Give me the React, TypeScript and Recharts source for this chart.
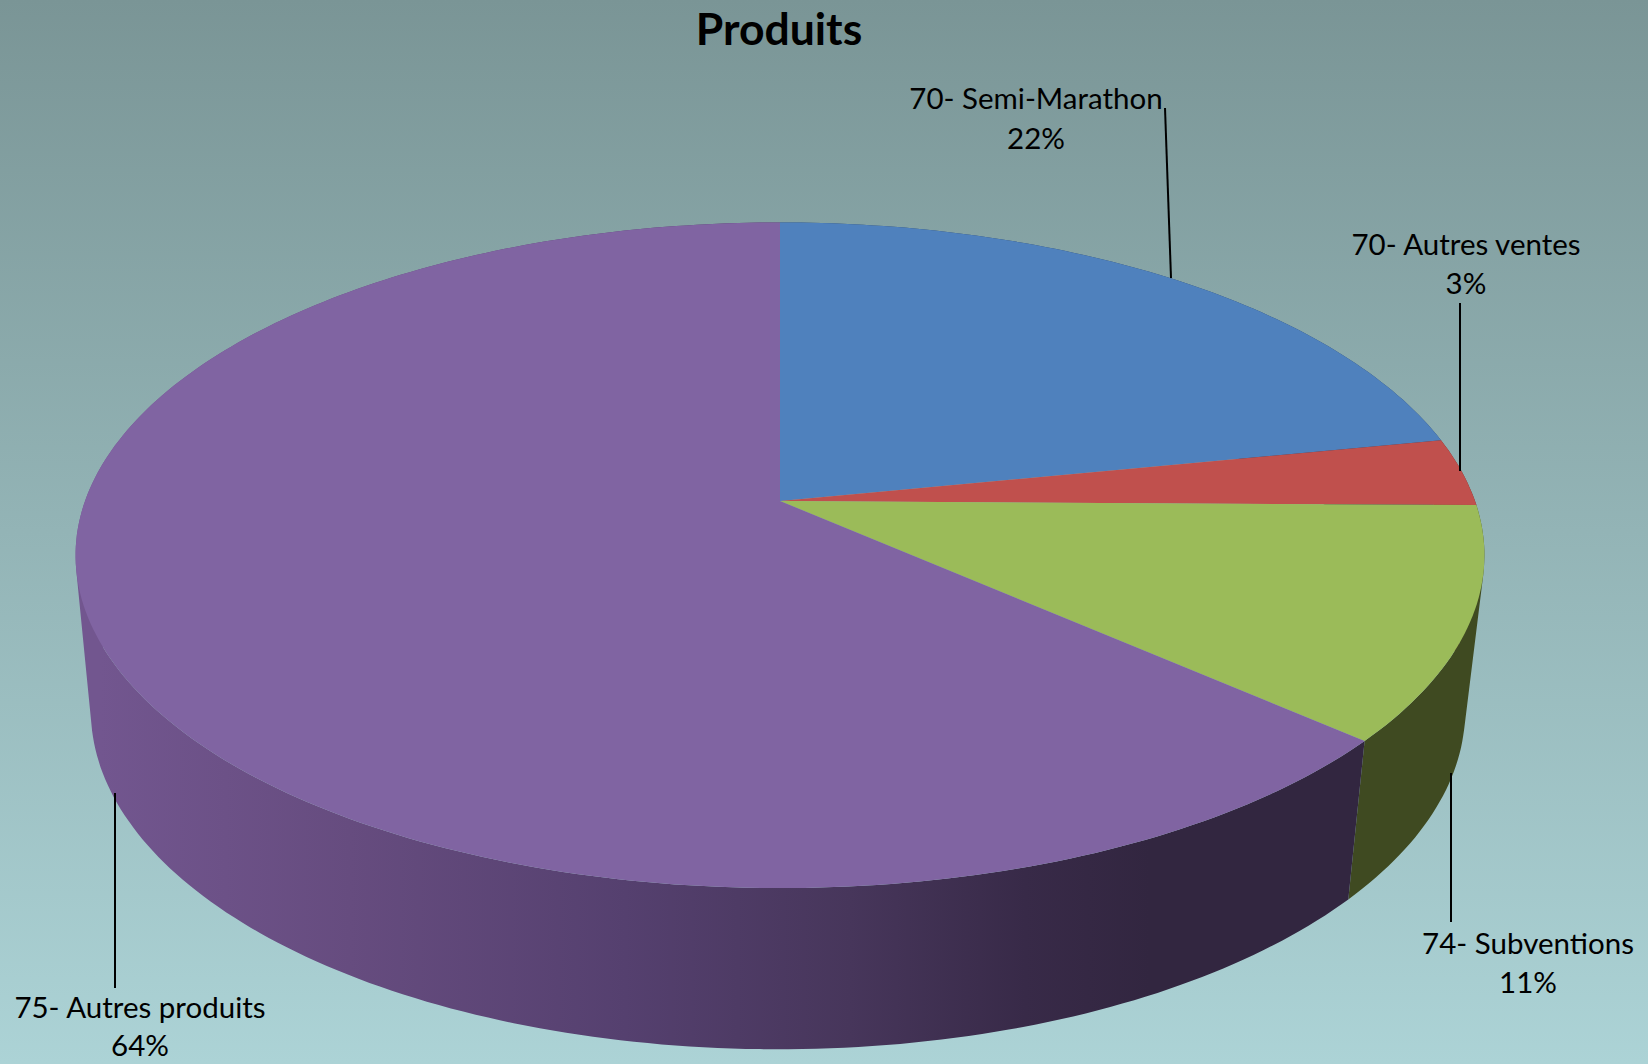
import { Pie, PieChart } from "recharts"

const categories = ["70- Semi-Marathon", "70- Autres ventes", "74- Subventions", "75- Autres produits"]
const shares = [21.9, 3.3, 11.29, 63.51]

const TOP_COLORS = ["#4f81bd", "#c0504d", "#9bbb59", "#8064a2"]
const WALL_COLORS = ["#2a4566", "#652a28", "#3f4a21", "url(#purpleWall)"]

// where each callout sits: leader line, then text centre and the two baselines
const CALLOUTS = [
  { x1: 1165, y1: 108, x2: 1171, y2: 278, tx: 1036, y: 109, y2nd: 149 },
  { x1: 1460, y1: 303, x2: 1460, y2: 471, tx: 1466, y: 255, y2nd: 294 },
  { x1: 1451, y1: 773, x2: 1451, y2: 922, tx: 1528, y: 954, y2nd: 993 },
  { x1: 115, y1: 793, x2: 115, y2: 988, tx: 140, y: 1018, y2nd: 1056 },
]

const WIDTH = 1648
const HEIGHT = 1064
const CX = 780
const CY = 501
const RADIUS = 695
const FONT = "Lato, 'Open Sans', sans-serif"

// perspective of the disc: k is how much the far side shrinks
const K = 0.163
const TOP_RY = 324 / RADIUS
const LOW_RX = 678 / RADIUS
const LOW_RY = 330 / RADIUS
const LOW_DX = -2
const LOW_DY = 154

const topPoint = (cx: number, cy: number, r: number, deg: number) => {
  const a = (deg * Math.PI) / 180
  const w = 1 + K * Math.sin(a)
  return [cx + (r * Math.cos(a)) / w, cy - (r * TOP_RY * Math.sin(a)) / w]
}

const lowPoint = (cx: number, cy: number, r: number, deg: number) => {
  const a = (deg * Math.PI) / 180
  const w = 1 + K * Math.sin(a)
  return [cx + LOW_DX + (r * LOW_RX * Math.cos(a)) / w, cy + LOW_DY - (r * LOW_RY * Math.sin(a)) / w]
}

const arcAngles = (start: number, end: number) => {
  const n = Math.max(2, Math.ceil(Math.abs(end - start)))
  return Array.from({ length: n + 1 }, (_, i) => start + ((end - start) * i) / n)
}

const toPath = (pts: number[][]) => "M" + pts.map((p) => `${p[0].toFixed(1)},${p[1].toFixed(1)}`).join("L") + "Z"

// same winding for every quad, so nonzero fill gives their union with no seams
const quadPath = (pts: number[][]) => {
  let area = 0
  pts.forEach((p, i) => {
    const q = pts[(i + 1) % pts.length]
    area += p[0] * q[1] - q[0] * p[1]
  })
  return toPath(area < 0 ? [...pts].reverse() : pts)
}

function TopSlice(props: any) {
  const { cx, cy, outerRadius, startAngle, endAngle, fill } = props
  const rim = arcAngles(startAngle, endAngle).map((d) => topPoint(cx, cy, outerRadius, d))
  return <path d={toPath([[cx, cy], ...rim])} fill={fill} stroke="none" />
}

function WallSlice(props: any) {
  const { cx, cy, outerRadius, startAngle, endAngle, fill } = props
  const angles = arcAngles(startAngle, endAngle)
  const d = angles.slice(1).map((b, i) => {
    const a = angles[i]
    return quadPath([
      topPoint(cx, cy, outerRadius, a),
      topPoint(cx, cy, outerRadius, b),
      lowPoint(cx, cy, outerRadius, b),
      lowPoint(cx, cy, outerRadius, a),
    ])
  }).join("")
  return <path d={d} fill={fill} fillRule="nonzero" stroke="none" />
}

function Callout(props: any) {
  const { index, percent } = props
  const c = CALLOUTS[index]
  const textStyle = { fontFamily: FONT, fontSize: 29.5, fill: "#000" }
  return (
    <g>
      <line x1={c.x1} y1={c.y1} x2={c.x2} y2={c.y2} stroke="#000" strokeWidth={2} />
      <text x={c.tx} y={c.y} textAnchor="middle" style={textStyle}>{categories[index]}</text>
      <text x={c.tx} y={c.y2nd} textAnchor="middle" style={textStyle}>{Math.round(percent * 100)}%</text>
    </g>
  )
}

const topData = categories.map((name, i) => ({ name, value: shares[i], fill: TOP_COLORS[i] }))
const wallData = categories.map((name, i) => ({ name, value: shares[i], fill: WALL_COLORS[i] }))

export default function App() {
  return (
    <div style={{
      position: "fixed", left: 0, top: 0, width: WIDTH, height: HEIGHT,
      background: "linear-gradient(180deg, #7a9596 0%, #acd3d6 100%)",
    }}>
      <div style={{
        position: "absolute", left: 0, top: 0, width: 1558, textAlign: "center", lineHeight: "56px",
        fontFamily: FONT, fontWeight: 700, fontSize: 44.5, color: "#000",
      }}>Produits</div>
      <PieChart width={WIDTH} height={HEIGHT} margin={{ top: 0, right: 0, bottom: 0, left: 0 }} style={{ position: "absolute", left: 0, top: 0 }}>
        <defs>
          <linearGradient id="purpleWall" gradientUnits="userSpaceOnUse" x1="100" y1="0" x2="1350" y2="0">
            <stop offset="0" stopColor="#72568f" />
            <stop offset="0.2" stopColor="#664c7f" />
            <stop offset="0.42" stopColor="#55406f" />
            <stop offset="0.6" stopColor="#47365b" />
            <stop offset="0.74" stopColor="#382a48" />
            <stop offset="0.84" stopColor="#322640" />
            <stop offset="1" stopColor="#322640" />
          </linearGradient>
        </defs>
        <Pie data={wallData} dataKey="value" nameKey="name" cx={CX} cy={CY} innerRadius={0} outerRadius={RADIUS}
          startAngle={90} endAngle={-270} paddingAngle={0} stroke="none" shape={WallSlice} isAnimationActive={false} />
        <Pie data={topData} dataKey="value" nameKey="name" cx={CX} cy={CY} innerRadius={0} outerRadius={RADIUS}
          startAngle={90} endAngle={-270} paddingAngle={0} stroke="none" shape={TopSlice} label={Callout} labelLine={false} isAnimationActive={false} />
      </PieChart>
    </div>
  )
}
